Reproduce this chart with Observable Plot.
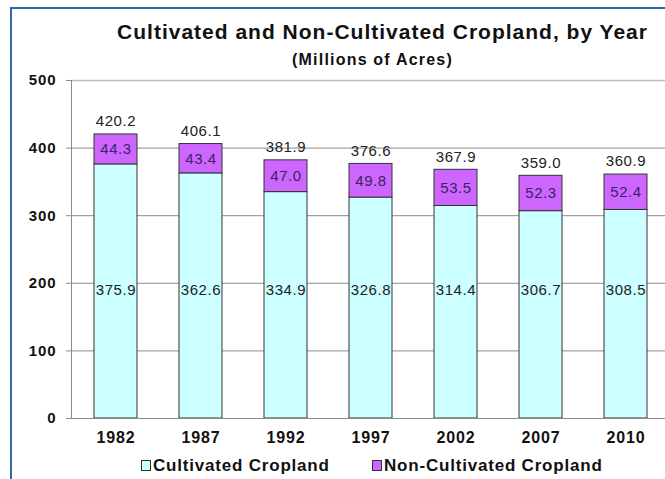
<!DOCTYPE html>
<html>
<head>
<meta charset="utf-8">
<script src="https://cdn.jsdelivr.net/npm/d3@7"></script>
<script src="https://cdn.jsdelivr.net/npm/@observablehq/plot@0.6"></script>
<style>
  html, body { margin: 0; padding: 0; background: #fff; }
  body { width: 665px; height: 479px; overflow: hidden; position: relative; font-family: "Liberation Sans", Arial, sans-serif; }
  #border { position: absolute; left: 10px; top: 7px; width: 720px; height: 520px; border-top: 2px solid #2f6aa6; border-left: 2px solid #2f6aa6; }
  #header { position: relative; height: 70px; }
  #title { position: absolute; left: 0; width: 665px; top: 20px; line-height: 24px; text-align: center; font-weight: bold; font-size: 21px; letter-spacing: 1px; color: #111; padding-left: 100px; box-sizing: border-box; }
  #subtitle { position: absolute; left: 0; width: 665px; top: 50px; line-height: 20px; text-align: center; font-weight: bold; font-size: 16px; letter-spacing: 1.2px; color: #111; padding-left: 80px; box-sizing: border-box; }
  #chart { position: relative; height: 380px; }
  #chart svg { display: block; }
  #legend { position: relative; height: 29px; font-weight: bold; font-size: 17px; letter-spacing: 0.8px; color: #111; }
  .item { position: absolute; top: 6px; line-height: 20px; white-space: nowrap; }
  .sw { display: inline-block; width: 8px; height: 9px; border: 1px solid #333; margin-right: 2px; vertical-align: 0px; }
</style>
</head>
<body>
<div id="border"></div>
<div id="header">
  <div id="title">Cultivated and Non-Cultivated Cropland, by Year</div>
  <div id="subtitle">(Millions of Acres)</div>
</div>
<div id="chart"></div>
<div id="legend"></div>
<script>
const years = ["1982", "1987", "1992", "1997", "2002", "2007", "2010"];
const cultivated = [375.9, 362.6, 334.9, 326.8, 314.4, 306.7, 308.5];
const nonCultivated = [44.3, 43.4, 47.0, 49.8, 53.5, 52.3, 52.4];
const totals = [420.2, 406.1, 381.9, 376.6, 367.9, 359.0, 360.9];
const seriesNames = ["Cultivated Cropland", "Non-Cultivated Cropland"];
const seriesColors = ["#ccffff", "#cc66ff"];
const yTicks = [0, 100, 200, 300, 400, 500];

const rows = years.flatMap((year, i) => [
  {year, type: seriesNames[0], value: cultivated[i]},
  {year, type: seriesNames[1], value: nonCultivated[i]}
]);
const data = years.map((year, i) => ({year, cult: cultivated[i], non: nonCultivated[i], total: totals[i]}));

const font = "'Liberation Sans', Arial, sans-serif";
const cultLabelLevel = 190;

const chart = Plot.plot({
  width: 665,
  height: 380,
  marginTop: 10,
  marginBottom: 32,
  marginLeft: 71,
  marginRight: 0,
  style: {fontFamily: font, background: "transparent", overflow: "visible"},
  x: {domain: years, range: [71, 670], paddingInner: 0.49, paddingOuter: 0.245, label: null},
  y: {domain: [0, 500], label: null},
  color: {domain: seriesNames, range: seriesColors},
  marks: [
    Plot.ruleY([100, 200, 300, 400], {stroke: "#8c8c8c", strokeWidth: 1}),
    Plot.ruleY([500], {stroke: "#bdbdbd", strokeWidth: 1.5}),
    Plot.axisY({ticks: yTicks, tickSize: 5, stroke: "#8c8c8c", fill: "none", label: null}),
    Plot.axisY({ticks: yTicks, tickSize: 0, tickPadding: 15, fill: "#111", fontWeight: "bold", fontSize: 15, label: null}),
    Plot.axisX({tickSize: 0, tickPadding: 13, fill: "#111", fontWeight: "bold", fontSize: 16, label: null}),
    Plot.barY(rows, {x: "year", y: "value", fill: "type", stroke: "#333", strokeWidth: 1}),
    Plot.frame({anchor: "left", stroke: "#8c8c8c"}),
    Plot.ruleY([0], {stroke: "#8c8c8c", strokeWidth: 1}),
    Plot.text(data, {x: "year", y: () => cultLabelLevel, text: d => d.cult.toFixed(1), fontSize: 15, fill: "#222"}),
    Plot.text(data, {x: "year", y: d => d.cult + d.non / 2, text: d => d.non.toFixed(1), fontSize: 15, fill: "#3a2360"}),
    Plot.text(data, {x: "year", y: "total", dy: -13, text: d => d.total.toFixed(1), fontSize: 15, fill: "#222"})
  ]
});
chart.querySelectorAll("text").forEach(t => { t.style.letterSpacing = "0.6px"; });
chart.querySelectorAll("g[aria-label='y-axis tick label'] text, g[aria-label='x-axis tick label'] text").forEach(t => { t.style.letterSpacing = "0.9px"; });
document.getElementById("chart").appendChild(chart);

const legend = document.getElementById("legend");
const legendLeft = [141, 372];
seriesNames.forEach((name, i) => {
  const item = document.createElement("div");
  item.className = "item";
  item.style.left = legendLeft[i] + "px";
  const sw = document.createElement("span");
  sw.className = "sw";
  sw.style.background = seriesColors[i];
  item.appendChild(sw);
  item.appendChild(document.createTextNode(name));
  legend.appendChild(item);
});
</script>
</body>
</html>
